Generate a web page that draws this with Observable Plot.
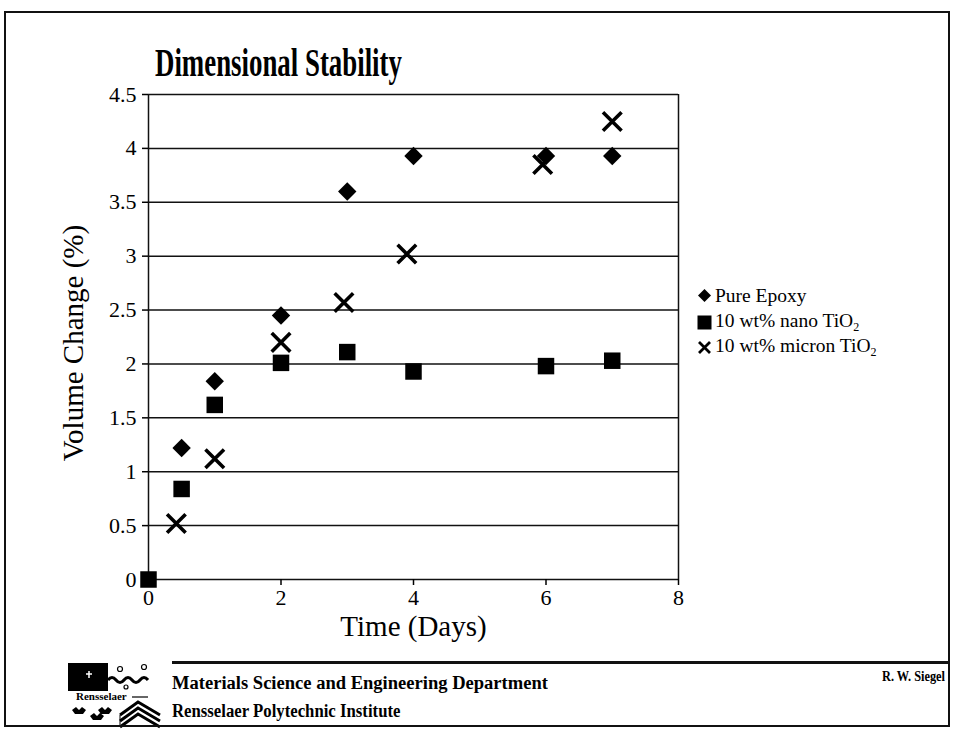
<!DOCTYPE html>
<html>
<head>
<meta charset="utf-8">
<script src="https://cdn.jsdelivr.net/npm/d3@7"></script>
<script src="https://cdn.jsdelivr.net/npm/@observablehq/plot@0.6"></script>
<style>
  html, body { margin: 0; padding: 0; background: #fff; }
  #page { position: relative; width: 956px; height: 736px; overflow: hidden; font-family: "Liberation Serif", "Times New Roman", serif; color: #000; }
  #frame { position: absolute; left: 4px; top: 11px; width: 946px; height: 716px; border: 2px solid #111; box-sizing: border-box; pointer-events: none; }
  #title { position: absolute; left: 155px; top: 38px; font-size: 41px; font-weight: bold; white-space: nowrap; transform: scaleX(0.655); transform-origin: left top; }
  #chart { position: absolute; left: 0; top: 0; }
  .leg { position: absolute; left: 697px; font-size: 19.5px; white-space: nowrap; display: flex; align-items: center; }
  .leg svg { margin-right: 3px; }
  #footline { position: absolute; left: 172px; top: 661px; width: 778px; height: 3px; background: #111; }
  #dept { position: absolute; left: 172px; top: 673px; font-size: 18px; font-weight: bold; white-space: nowrap; transform: scaleX(1.03); transform-origin: left top; }
  #inst { position: absolute; left: 172px; top: 701px; font-size: 18px; font-weight: bold; white-space: nowrap; transform: scaleX(0.93); transform-origin: left top; }
  #author { position: absolute; left: 882px; top: 669px; font-size: 14px; font-weight: bold; white-space: nowrap; transform: scaleX(0.88); transform-origin: left top; }
  #logo { position: absolute; left: 60px; top: 660px; }
</style>
</head>
<body>
<div id="page">
  <div id="chart"></div>
  <div id="title">Dimensional Stability</div>
  <div id="legend"></div>
  <div id="footline"></div>
  <svg id="logo" width="112" height="70" viewBox="0 0 112 70">
    <rect x="8" y="3" width="40" height="28" fill="#000"/>
    <path d="M26 14 h6 M29 11 v7" stroke="#fff" stroke-width="1.5"/>
    <path d="M48 20 q4 -5 8 0 t8 0 t8 0 t8 0 t8 0" fill="none" stroke="#000" stroke-width="3"/>
    <circle cx="60" cy="9" r="2.5" fill="none" stroke="#000" stroke-width="1.2"/>
    <circle cx="84" cy="7" r="2.5" fill="none" stroke="#000" stroke-width="1.2"/>
    <circle cx="66" cy="27" r="2" fill="none" stroke="#000" stroke-width="1.2"/>
    <text x="16" y="40" font-size="11" font-family="Liberation Serif" font-weight="bold">Rensselaer</text>
    <path d="M72 37 h16" stroke="#000" stroke-width="1.2"/>
    <path d="M12 50 l4 -3 l3 3 l3 -3 l4 3 l-3 4 h-8 z M30 56 l4 -3 l3 3 l3 -3 l4 3 l-3 4 h-8 z M38 50 l4 -3 l3 3 l3 -3 l4 3 l-3 4 h-8 z" fill="#000"/>
    <path d="M60 55 l18 -13 l22 13 M60 61 l18 -13 l22 13 M60 67 l18 -13 l22 13" fill="none" stroke="#000" stroke-width="3"/>
    <path d="M60 55 v12" stroke="#000" stroke-width="1"/>
  </svg>
  <div id="dept">Materials Science and Engineering Department</div>
  <div id="inst">Rensselaer Polytechnic Institute</div>
  <div id="author">R. W. Siegel</div>
  <div id="frame"></div>
</div>
<script>
// ---- Data ----
const seriesNames = ["Pure Epoxy", "10 wt% nano TiO\u2082", "10 wt% micron TiO\u2082"];

const epoxyDays   = [0.5, 1, 2, 3, 4, 6, 7];
const epoxyChange = [1.22, 1.84, 2.45, 3.6, 3.93, 3.93, 3.93];

const nanoDays    = [0, 0.5, 1, 2, 3, 4, 6, 7];
const nanoChange  = [0, 0.84, 1.62, 2.01, 2.11, 1.93, 1.98, 2.03];

const micronDays   = [0.42, 1, 2, 2.95, 3.9, 5.95, 7];
const micronChange = [0.52, 1.12, 2.2, 2.57, 3.02, 3.85, 4.25];

const yTicks = [0, 0.5, 1, 1.5, 2, 2.5, 3, 3.5, 4, 4.5];
const xTicks = [0, 2, 4, 6, 8];
const xLabel = "Time (Days)";
const yLabel = "Volume Change (%)";

const toRows = (xs, ys) => xs.map((x, i) => ({x, y: ys[i]}));
const epoxy = toRows(epoxyDays, epoxyChange);
const nano = toRows(nanoDays, nanoChange);
const micron = toRows(micronDays, micronChange);

const chart = Plot.plot({
  width: 956,
  height: 736,
  marginLeft: 148,
  marginRight: 278,
  marginTop: 94,
  marginBottom: 157,
  style: {fontFamily: "Liberation Serif", fontSize: "22px", color: "#000", background: "transparent", overflow: "visible"},
  x: {type: "linear", domain: [0, 8]},
  y: {type: "linear", domain: [0, 4.5]},
  marks: [
    Plot.ruleY(yTicks, {y: d => d, stroke: "#111", strokeWidth: 1.5}),
    Plot.ruleX([0, 8], {x: d => d, stroke: "#111", strokeWidth: 1.5}),
    Plot.axisY(yTicks, {tickSize: 6, tickPadding: 6, tickFormat: d => String(d), fontSize: 22, label: null, strokeWidth: 1.5}),
    Plot.axisX(xTicks, {tickSize: 6, tickPadding: 4, tickFormat: d => String(d), fontSize: 22, label: null, strokeWidth: 1.5}),
    Plot.text([yLabel], {frameAnchor: "left", dx: -75, dy: 6, rotate: -90, fontSize: 29, textAnchor: "middle", text: d => d}),
    Plot.text([xLabel], {frameAnchor: "bottom", dy: 56, fontSize: 29, text: d => d}),
    Plot.dot(epoxy, {x: "x", y: "y", symbol: "diamond2", r: 8.3, fill: "#000", stroke: "none"}),
    Plot.dot(nano, {x: "x", y: "y", symbol: "square2", r: 10.5, fill: "#000", stroke: "none"}),
    Plot.dot(micron, {x: "x", y: "y", symbol: "times", r: 8.5, stroke: "#000", strokeWidth: 3.6})
  ]
});
document.getElementById("chart").appendChild(chart);

// ---- Legend ----
const legendSymbols = [
  '<svg width="15" height="15" viewBox="-7.5 -7.5 15 15"><path d="M0 -6.5 L6.5 0 L0 6.5 L-6.5 0 Z" fill="#000"/></svg>',
  '<svg width="15" height="15" viewBox="-7.5 -7.5 15 15"><rect x="-7" y="-7" width="14" height="14" fill="#000"/></svg>',
  '<svg width="15" height="15" viewBox="-7.5 -7.5 15 15"><path d="M-5.5 -5.5 L5.5 5.5 M5.5 -5.5 L-5.5 5.5" stroke="#000" stroke-width="2.8"/></svg>'
];
const legendTops = [286, 311, 336];
const legendHTML = ["Pure Epoxy", "10 wt% nano TiO<sub>2</sub>", "10 wt% micron TiO<sub>2</sub>"];
const legend = document.getElementById("legend");
seriesNames.forEach((name, i) => {
  const div = document.createElement("div");
  div.className = "leg";
  div.style.top = legendTops[i] + "px";
  div.innerHTML = legendSymbols[i] + '<span style="line-height:1">' + legendHTML[i].replace(/<sub>/g, '<sub style="font-size:12px;vertical-align:-4px">') + "</span>";
  div.setAttribute("aria-label", name);
  legend.appendChild(div);
});
</script>
</body>
</html>
